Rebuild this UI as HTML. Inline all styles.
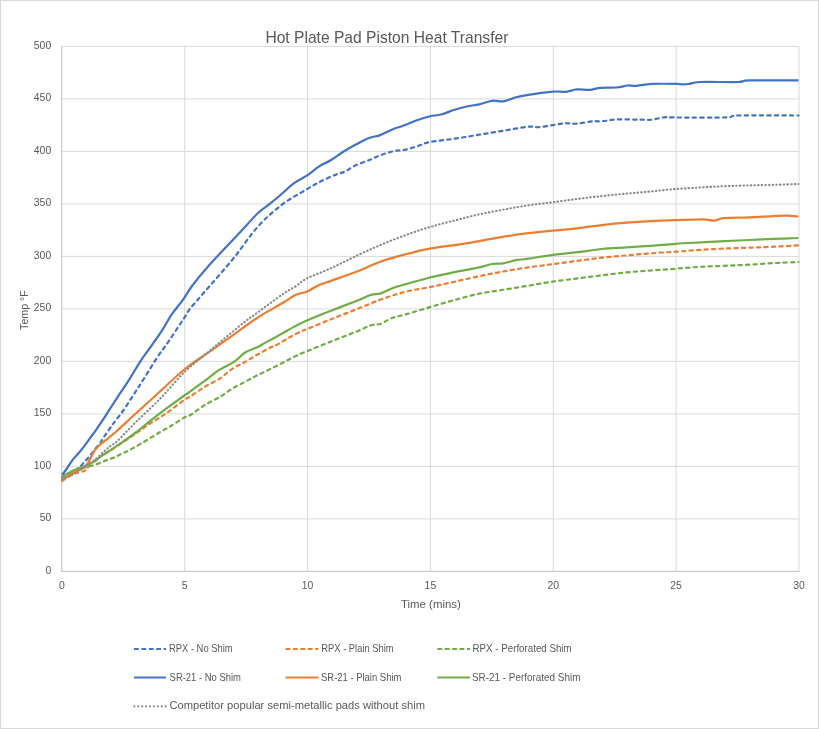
<!DOCTYPE html>
<html><head><meta charset="utf-8"><style>
html,body{margin:0;padding:0;background:#fff;width:819px;height:729px;overflow:hidden}
</style></head><body>
<svg width="819" height="729" viewBox="0 0 819 729" style="position:absolute;left:0;top:0;will-change:transform">
<rect x="0.5" y="0.5" width="818" height="728" fill="#fff" stroke="#D9D9D9" stroke-width="1"/>
<path d="M61.80 518.90H799.00 M61.80 466.40H799.00 M61.80 413.90H799.00 M61.80 361.40H799.00 M61.80 308.90H799.00 M61.80 256.40H799.00 M61.80 203.90H799.00 M61.80 151.40H799.00 M61.80 98.90H799.00 M61.80 46.40H799.00 M184.67 46.40V571.40 M307.53 46.40V571.40 M430.40 46.40V571.40 M553.27 46.40V571.40 M676.13 46.40V571.40 M799.00 46.40V571.40" stroke="#D9D9D9" stroke-width="1" fill="none"/>
<path d="M61.80 46.40V571.40" stroke="#BFBFBF" stroke-width="1" fill="none"/>
<path d="M61.30 571.40H799.50" stroke="#BFBFBF" stroke-width="1" fill="none"/>
<text x="51.2" y="573.90" text-anchor="end" font-family='"Liberation Sans", sans-serif' font-size="10.4" fill="#595959">0</text>
<text x="51.2" y="521.40" text-anchor="end" font-family='"Liberation Sans", sans-serif' font-size="10.4" fill="#595959">50</text>
<text x="51.2" y="468.90" text-anchor="end" font-family='"Liberation Sans", sans-serif' font-size="10.4" fill="#595959">100</text>
<text x="51.2" y="416.40" text-anchor="end" font-family='"Liberation Sans", sans-serif' font-size="10.4" fill="#595959">150</text>
<text x="51.2" y="363.90" text-anchor="end" font-family='"Liberation Sans", sans-serif' font-size="10.4" fill="#595959">200</text>
<text x="51.2" y="311.40" text-anchor="end" font-family='"Liberation Sans", sans-serif' font-size="10.4" fill="#595959">250</text>
<text x="51.2" y="258.90" text-anchor="end" font-family='"Liberation Sans", sans-serif' font-size="10.4" fill="#595959">300</text>
<text x="51.2" y="206.40" text-anchor="end" font-family='"Liberation Sans", sans-serif' font-size="10.4" fill="#595959">350</text>
<text x="51.2" y="153.90" text-anchor="end" font-family='"Liberation Sans", sans-serif' font-size="10.4" fill="#595959">400</text>
<text x="51.2" y="101.40" text-anchor="end" font-family='"Liberation Sans", sans-serif' font-size="10.4" fill="#595959">450</text>
<text x="51.2" y="48.90" text-anchor="end" font-family='"Liberation Sans", sans-serif' font-size="10.4" fill="#595959">500</text>
<text x="61.80" y="589" text-anchor="middle" font-family='"Liberation Sans", sans-serif' font-size="10.4" fill="#595959">0</text>
<text x="184.67" y="589" text-anchor="middle" font-family='"Liberation Sans", sans-serif' font-size="10.4" fill="#595959">5</text>
<text x="307.53" y="589" text-anchor="middle" font-family='"Liberation Sans", sans-serif' font-size="10.4" fill="#595959">10</text>
<text x="430.40" y="589" text-anchor="middle" font-family='"Liberation Sans", sans-serif' font-size="10.4" fill="#595959">15</text>
<text x="553.27" y="589" text-anchor="middle" font-family='"Liberation Sans", sans-serif' font-size="10.4" fill="#595959">20</text>
<text x="676.13" y="589" text-anchor="middle" font-family='"Liberation Sans", sans-serif' font-size="10.4" fill="#595959">25</text>
<text x="799.00" y="589" text-anchor="middle" font-family='"Liberation Sans", sans-serif' font-size="10.4" fill="#595959">30</text>
<text x="265.4" y="42.5" textLength="243" lengthAdjust="spacingAndGlyphs" font-family='"Liberation Sans", sans-serif' font-size="16.4" fill="#595959">Hot Plate Pad Piston Heat Transfer</text>
<text x="401" y="608.1" textLength="59.8" lengthAdjust="spacingAndGlyphs" font-family='"Liberation Sans", sans-serif' font-size="10.8" fill="#595959">Time (mins)</text>
<text transform="translate(27.9 329.9) rotate(-90)" x="0" y="0" textLength="39.6" lengthAdjust="spacingAndGlyphs" font-family='"Liberation Sans", sans-serif' font-size="10.8" fill="#595959">Temp °F</text>
<path d="M62.00 477.50C63.33 476.75 67.22 474.62 70.00 473.00C72.78 471.38 76.38 469.53 78.70 467.80C81.02 466.07 82.17 464.45 83.90 462.60C85.63 460.75 87.25 458.92 89.10 456.70C90.95 454.48 93.02 451.77 95.00 449.30C96.98 446.83 99.73 443.62 101.00 441.90C102.27 440.18 100.77 441.73 102.60 439.00C104.43 436.27 108.62 430.17 112.00 425.50C115.38 420.83 119.25 416.22 122.90 411.00C126.55 405.78 130.43 399.53 133.90 394.20C137.37 388.87 139.78 385.18 143.70 379.00C147.62 372.82 153.28 363.32 157.40 357.10C161.52 350.88 164.73 347.02 168.40 341.70C172.07 336.38 176.72 329.22 179.40 325.20C182.08 321.18 182.73 320.33 184.50 317.60C186.27 314.87 185.93 313.90 190.00 308.80C194.07 303.70 201.65 295.42 208.90 287.00C216.15 278.58 225.32 268.38 233.50 258.30C241.68 248.22 249.82 235.52 258.00 226.50C266.18 217.48 274.42 210.43 282.60 204.20C290.78 197.97 300.73 192.92 307.10 189.10C313.47 185.28 315.92 183.75 320.80 181.30C325.68 178.85 332.33 176.03 336.40 174.40C340.47 172.77 342.15 172.93 345.20 171.50C348.25 170.07 350.45 167.82 354.70 165.80C358.95 163.78 366.18 161.25 370.70 159.40C375.22 157.55 377.83 156.10 381.80 154.70C385.77 153.30 390.52 151.85 394.50 151.00C398.48 150.15 401.72 150.45 405.70 149.60C409.68 148.75 414.35 147.17 418.40 145.90C422.45 144.63 423.97 143.20 430.00 142.00C436.03 140.80 446.42 139.92 454.60 138.70C462.78 137.48 470.92 136.03 479.10 134.70C487.28 133.37 495.50 132.03 503.70 130.70C511.90 129.37 522.55 127.28 528.30 126.70C534.05 126.12 534.12 127.47 538.20 127.20C542.28 126.93 548.22 125.75 552.80 125.10C557.38 124.45 561.68 123.53 565.70 123.30C569.72 123.07 572.38 124.03 576.90 123.70C581.42 123.37 588.57 121.70 592.80 121.30C597.03 120.90 598.32 121.62 602.30 121.30C606.28 120.98 610.33 119.67 616.70 119.40C623.07 119.13 634.67 119.65 640.50 119.70C646.33 119.75 647.72 120.10 651.70 119.70C655.68 119.30 660.18 117.67 664.40 117.30C668.62 116.93 666.58 117.48 677.00 117.50C687.42 117.52 716.72 117.73 726.90 117.40C737.08 117.07 726.17 115.82 738.10 115.50C750.03 115.18 788.43 115.50 798.50 115.50" fill="none" stroke="#4472C4" stroke-width="2.2" stroke-linejoin="round" stroke-linecap="round" stroke-dasharray="3.3 4.2"/>
<path d="M62.00 481.00C63.80 479.90 69.77 475.87 72.80 474.40C75.83 472.93 78.10 472.87 80.20 472.20C82.30 471.53 83.92 471.38 85.40 470.40C86.88 469.42 86.88 468.47 89.10 466.30C91.32 464.13 95.12 460.07 98.70 457.40C102.28 454.73 108.00 451.90 110.60 450.30C113.20 448.70 110.20 450.52 114.30 447.80C118.40 445.08 129.45 437.93 135.20 434.00C140.95 430.07 144.70 426.95 148.80 424.20C152.90 421.45 156.27 419.77 159.80 417.50C163.33 415.23 165.92 413.55 170.00 410.60C174.08 407.65 180.80 402.22 184.30 399.80C187.80 397.38 187.65 398.23 191.00 396.10C194.35 393.97 199.57 389.97 204.40 387.00C209.23 384.03 215.35 381.33 220.00 378.30C224.65 375.27 228.18 371.48 232.30 368.80C236.42 366.12 240.58 364.53 244.70 362.20C248.82 359.87 252.78 357.20 257.00 354.80C261.22 352.40 266.62 349.50 270.00 347.80C273.38 346.10 274.02 346.37 277.30 344.60C280.58 342.83 285.58 339.47 289.70 337.20C293.82 334.93 299.05 332.38 302.00 331.00C304.95 329.62 302.45 330.90 307.40 328.90C312.35 326.90 323.55 322.25 331.70 319.00C339.85 315.75 348.10 312.65 356.30 309.40C364.50 306.15 372.72 302.43 380.90 299.50C389.08 296.57 397.22 293.87 405.40 291.80C413.58 289.73 421.80 288.78 430.00 287.10C438.20 285.42 446.42 283.52 454.60 281.70C462.78 279.88 470.92 277.92 479.10 276.20C487.28 274.48 495.50 272.87 503.70 271.40C511.90 269.93 520.12 268.62 528.30 267.40C536.48 266.18 544.62 265.18 552.80 264.10C560.98 263.02 569.20 261.97 577.40 260.90C585.60 259.83 593.82 258.62 602.00 257.70C610.18 256.78 618.32 256.13 626.50 255.40C634.68 254.67 642.90 253.92 651.10 253.30C659.30 252.68 667.52 252.27 675.70 251.70C683.88 251.13 692.02 250.43 700.20 249.90C708.38 249.37 716.60 248.87 724.80 248.50C733.00 248.13 741.22 248.00 749.40 247.70C757.58 247.40 765.72 247.08 773.90 246.70C782.08 246.32 794.40 245.62 798.50 245.40" fill="none" stroke="#ED7D31" stroke-width="2.2" stroke-linejoin="round" stroke-linecap="round" stroke-dasharray="3.3 4.2"/>
<path d="M62.00 477.40C63.80 476.42 68.78 473.23 72.80 471.50C76.82 469.77 82.40 468.12 86.10 467.00C89.80 465.88 91.67 465.90 95.00 464.80C98.33 463.70 103.10 461.53 106.10 460.40C109.10 459.27 111.02 458.80 113.00 458.00C114.98 457.20 114.30 457.43 118.00 455.60C121.70 453.77 128.23 450.88 135.20 447.00C142.17 443.12 154.00 435.72 159.80 432.30C165.60 428.88 165.92 428.97 170.00 426.50C174.08 424.03 180.97 419.37 184.30 417.50C187.63 415.63 186.65 417.35 190.00 415.30C193.35 413.25 199.40 408.28 204.40 405.20C209.40 402.12 215.35 399.57 220.00 396.80C224.65 394.03 228.18 391.07 232.30 388.60C236.42 386.13 240.58 384.20 244.70 382.00C248.82 379.80 253.07 377.40 257.00 375.40C260.93 373.40 264.22 371.98 268.30 370.00C272.38 368.02 277.25 365.68 281.50 363.50C285.75 361.32 289.48 358.98 293.80 356.90C298.12 354.82 301.08 353.60 307.40 351.00C313.72 348.40 323.55 344.53 331.70 341.30C339.85 338.07 349.80 334.25 356.30 331.60C362.80 328.95 366.60 326.70 370.70 325.40C374.80 324.10 377.47 325.00 380.90 323.80C384.33 322.60 387.22 319.75 391.30 318.20C395.38 316.65 398.95 316.35 405.40 314.50C411.85 312.65 421.80 309.52 430.00 307.10C438.20 304.68 446.42 302.23 454.60 300.00C462.78 297.77 470.92 295.42 479.10 293.70C487.28 291.98 495.50 291.03 503.70 289.70C511.90 288.37 520.12 287.05 528.30 285.70C536.48 284.35 544.62 282.82 552.80 281.60C560.98 280.38 569.20 279.45 577.40 278.40C585.60 277.35 593.82 276.30 602.00 275.30C610.18 274.30 618.32 273.20 626.50 272.40C634.68 271.60 642.90 271.12 651.10 270.50C659.30 269.88 667.52 269.32 675.70 268.70C683.88 268.08 692.02 267.28 700.20 266.80C708.38 266.32 716.60 266.15 724.80 265.80C733.00 265.45 741.22 265.15 749.40 264.70C757.58 264.25 765.72 263.55 773.90 263.10C782.08 262.65 794.40 262.18 798.50 262.00" fill="none" stroke="#70AD47" stroke-width="2.2" stroke-linejoin="round" stroke-linecap="round" stroke-dasharray="3.3 4.2"/>
<path d="M62.00 475.20C62.82 474.08 65.10 471.10 66.90 468.50C68.70 465.90 70.83 462.18 72.80 459.60C74.77 457.02 76.72 455.33 78.70 453.00C80.68 450.67 82.72 448.20 84.70 445.60C86.68 443.00 88.63 440.12 90.60 437.40C92.57 434.68 94.77 431.77 96.50 429.30C98.23 426.83 99.33 425.10 101.00 422.60C102.67 420.10 103.77 418.52 106.50 414.30C109.23 410.08 113.75 402.87 117.40 397.30C121.05 391.73 124.47 387.05 128.40 380.90C132.33 374.75 137.07 366.38 141.00 360.40C144.93 354.42 148.35 350.22 152.00 345.00C155.65 339.78 159.62 334.20 162.90 329.10C166.18 324.00 168.40 319.22 171.70 314.40C175.00 309.58 179.32 304.93 182.70 300.20C186.08 295.47 187.63 291.78 192.00 286.00C196.37 280.22 201.98 273.30 208.90 265.50C215.82 257.70 227.30 245.83 233.50 239.20C239.70 232.57 242.02 230.07 246.10 225.70C250.18 221.33 254.02 216.67 258.00 213.00C261.98 209.33 266.05 206.87 270.00 203.70C273.95 200.53 277.80 197.33 281.70 194.00C285.60 190.67 289.17 186.80 293.40 183.70C297.63 180.60 302.87 178.25 307.10 175.40C311.33 172.55 314.88 169.12 318.80 166.60C322.72 164.08 326.47 162.82 330.60 160.30C334.73 157.78 339.32 154.17 343.60 151.50C347.88 148.83 352.05 146.55 356.30 144.30C360.55 142.05 365.12 139.53 369.10 138.00C373.08 136.47 376.23 136.57 380.20 135.10C384.17 133.63 389.18 130.72 392.90 129.20C396.62 127.68 398.25 127.58 402.50 126.00C406.75 124.42 413.82 121.33 418.40 119.70C422.98 118.07 426.22 117.07 430.00 116.20C433.78 115.33 437.00 115.58 441.10 114.50C445.20 113.42 450.35 111.03 454.60 109.70C458.85 108.37 462.52 107.38 466.60 106.50C470.68 105.62 474.85 105.35 479.10 104.40C483.35 103.45 488.00 101.32 492.10 100.80C496.20 100.28 499.73 101.88 503.70 101.30C507.67 100.72 511.80 98.37 515.90 97.30C520.00 96.23 522.15 95.85 528.30 94.90C534.45 93.95 546.57 92.12 552.80 91.60C559.03 91.08 561.68 92.17 565.70 91.80C569.72 91.43 572.92 89.73 576.90 89.40C580.88 89.07 585.63 90.07 589.60 89.80C593.57 89.53 596.18 88.18 600.70 87.80C605.22 87.42 612.18 87.88 616.70 87.50C621.22 87.12 624.63 85.77 627.80 85.50C630.97 85.23 631.72 86.17 635.70 85.90C639.68 85.63 644.82 84.23 651.70 83.90C658.58 83.57 671.88 83.82 677.00 83.90C682.12 83.98 680.45 84.38 682.40 84.40C684.35 84.42 685.78 84.40 688.70 84.00C691.62 83.60 691.67 82.33 699.90 82.00C708.13 81.67 729.88 82.27 738.10 82.00C746.32 81.73 739.13 80.67 749.20 80.40C759.27 80.13 790.28 80.40 798.50 80.40" fill="none" stroke="#4472C4" stroke-width="2.2" stroke-linejoin="round" stroke-linecap="butt"/>
<path d="M62.00 480.30C63.80 479.08 69.40 474.97 72.80 473.00C76.20 471.03 80.05 469.87 82.40 468.50C84.75 467.13 85.53 466.53 86.90 464.80C88.27 463.07 89.25 460.57 90.60 458.10C91.95 455.63 93.27 452.40 95.00 450.00C96.73 447.60 98.77 445.68 101.00 443.70C103.23 441.72 105.57 440.38 108.40 438.10C111.23 435.82 113.53 434.02 118.00 430.00C122.47 425.98 128.83 419.83 135.20 414.00C141.57 408.17 148.02 402.42 156.20 395.00C164.38 387.58 175.52 376.65 184.30 369.50C193.08 362.35 200.70 357.88 208.90 352.10C217.10 346.32 225.32 340.60 233.50 334.80C241.68 329.00 249.82 322.60 258.00 317.30C266.18 312.00 276.37 306.72 282.60 303.00C288.83 299.28 291.30 296.92 295.40 295.00C299.50 293.08 303.42 293.10 307.20 291.50C310.98 289.90 314.02 287.22 318.10 285.40C322.18 283.58 325.33 282.87 331.70 280.60C338.07 278.33 348.10 274.98 356.30 271.80C364.50 268.62 372.72 264.42 380.90 261.50C389.08 258.58 397.22 256.45 405.40 254.30C413.58 252.15 421.80 250.13 430.00 248.60C438.20 247.07 446.42 246.35 454.60 245.10C462.78 243.85 470.92 242.50 479.10 241.10C487.28 239.70 495.50 238.02 503.70 236.70C511.90 235.38 520.12 234.20 528.30 233.20C536.48 232.20 544.62 231.52 552.80 230.70C560.98 229.88 569.20 229.23 577.40 228.30C585.60 227.37 593.82 226.03 602.00 225.10C610.18 224.17 618.32 223.37 626.50 222.70C634.68 222.03 642.90 221.53 651.10 221.10C659.30 220.67 667.05 220.40 675.70 220.10C684.35 219.80 696.58 219.22 703.00 219.30C709.42 219.38 710.75 220.80 714.20 220.60C717.65 220.40 717.83 218.65 723.70 218.10C729.57 217.55 741.03 217.63 749.40 217.30C757.77 216.97 767.57 216.37 773.90 216.10C780.23 215.83 783.30 215.63 787.40 215.70C791.50 215.77 796.65 216.37 798.50 216.50" fill="none" stroke="#ED7D31" stroke-width="2.2" stroke-linejoin="round" stroke-linecap="butt"/>
<path d="M62.00 476.70C63.80 475.70 68.78 472.55 72.80 470.70C76.82 468.85 82.40 467.20 86.10 465.60C89.80 464.00 92.68 462.50 95.00 461.10C97.32 459.70 98.15 458.55 100.00 457.20C101.85 455.85 104.33 454.17 106.10 453.00C107.87 451.83 108.62 451.50 110.60 450.20C112.58 448.90 113.90 448.07 118.00 445.20C122.10 442.33 130.75 436.32 135.20 433.00C139.65 429.68 140.60 428.57 144.70 425.30C148.80 422.03 155.58 416.65 159.80 413.40C164.02 410.15 165.92 408.78 170.00 405.80C174.08 402.82 178.57 399.60 184.30 395.50C190.03 391.40 198.65 385.42 204.40 381.20C210.15 376.98 213.87 373.43 218.80 370.20C223.73 366.97 229.55 364.78 234.00 361.80C238.45 358.82 241.52 354.77 245.50 352.30C249.48 349.83 254.65 348.57 257.90 347.00C261.15 345.43 261.07 345.08 265.00 342.90C268.93 340.72 276.70 336.57 281.50 333.90C286.30 331.23 289.48 329.17 293.80 326.90C298.12 324.63 301.08 323.03 307.40 320.30C313.72 317.57 323.55 313.72 331.70 310.50C339.85 307.28 349.80 303.58 356.30 301.00C362.80 298.42 366.60 296.27 370.70 295.00C374.80 293.73 377.18 294.57 380.90 293.40C384.62 292.23 388.92 289.52 393.00 288.00C397.08 286.48 399.23 286.05 405.40 284.30C411.57 282.55 421.80 279.52 430.00 277.50C438.20 275.48 446.42 273.88 454.60 272.20C462.78 270.52 472.87 268.77 479.10 267.40C485.33 266.03 487.98 264.67 492.00 264.00C496.02 263.33 499.20 264.03 503.20 263.40C507.20 262.77 511.82 260.98 516.00 260.20C520.18 259.42 522.17 259.60 528.30 258.70C534.43 257.80 544.62 255.88 552.80 254.80C560.98 253.72 569.20 253.17 577.40 252.20C585.60 251.23 593.82 249.80 602.00 249.00C610.18 248.20 618.32 247.93 626.50 247.40C634.68 246.87 642.90 246.40 651.10 245.80C659.30 245.20 667.52 244.37 675.70 243.80C683.88 243.23 692.02 242.85 700.20 242.40C708.38 241.95 716.60 241.50 724.80 241.10C733.00 240.70 741.22 240.37 749.40 240.00C757.58 239.63 765.72 239.23 773.90 238.90C782.08 238.57 794.40 238.15 798.50 238.00" fill="none" stroke="#70AD47" stroke-width="2.2" stroke-linejoin="round" stroke-linecap="butt"/>
<path d="M62.00 479.00C63.80 478.23 68.78 476.63 72.80 474.40C76.82 472.17 82.40 468.07 86.10 465.60C89.80 463.13 92.03 461.95 95.00 459.60C97.97 457.25 101.30 453.77 103.90 451.50C106.50 449.23 108.37 447.73 110.60 446.00C112.83 444.27 113.20 444.98 117.30 441.10C121.40 437.22 128.12 429.72 135.20 422.70C142.28 415.68 151.62 407.42 159.80 399.00C167.98 390.58 176.12 380.12 184.30 372.20C192.48 364.28 202.83 356.60 208.90 351.50C214.97 346.40 216.60 345.02 220.70 341.60C224.80 338.18 229.22 334.52 233.50 331.00C237.78 327.48 242.32 323.63 246.40 320.50C250.48 317.37 251.97 316.58 258.00 312.20C264.03 307.82 276.37 298.50 282.60 294.20C288.83 289.90 291.30 289.05 295.40 286.40C299.50 283.75 301.15 281.38 307.20 278.30C313.25 275.22 323.52 271.63 331.70 267.90C339.88 264.17 348.10 259.75 356.30 255.90C364.50 252.05 372.72 248.25 380.90 244.80C389.08 241.35 397.22 238.17 405.40 235.20C413.58 232.23 421.80 229.45 430.00 227.00C438.20 224.55 446.42 222.60 454.60 220.50C462.78 218.40 470.92 216.22 479.10 214.40C487.28 212.58 495.50 211.12 503.70 209.60C511.90 208.08 520.12 206.52 528.30 205.30C536.48 204.08 544.62 203.37 552.80 202.30C560.98 201.23 569.20 199.95 577.40 198.90C585.60 197.85 593.82 196.88 602.00 196.00C610.18 195.12 618.32 194.37 626.50 193.60C634.68 192.83 642.90 192.17 651.10 191.40C659.30 190.63 667.52 189.65 675.70 189.00C683.88 188.35 692.02 187.97 700.20 187.50C708.38 187.03 716.60 186.55 724.80 186.20C733.00 185.85 741.22 185.63 749.40 185.40C757.58 185.17 765.72 185.03 773.90 184.80C782.08 184.57 794.40 184.13 798.50 184.00" fill="none" stroke="#8A8A8A" stroke-width="2.1" stroke-linecap="round" stroke-dasharray="0.5 3.16"/>
<line x1="134" y1="649.0" x2="166" y2="649.0" stroke="#4472C4" stroke-width="2" stroke-dasharray="4.8 2.6"/>
<text x="169.0" y="651.9" textLength="63.6" lengthAdjust="spacingAndGlyphs" font-family='"Liberation Sans", sans-serif' font-size="10.2" fill="#595959">RPX - No Shim</text>
<line x1="285.6" y1="649.0" x2="318.4" y2="649.0" stroke="#ED7D31" stroke-width="2" stroke-dasharray="4.8 2.6"/>
<text x="321.3" y="651.9" textLength="72.3" lengthAdjust="spacingAndGlyphs" font-family='"Liberation Sans", sans-serif' font-size="10.2" fill="#595959">RPX - Plain Shim</text>
<line x1="437.4" y1="649.0" x2="470" y2="649.0" stroke="#70AD47" stroke-width="2" stroke-dasharray="4.8 2.6"/>
<text x="472.6" y="651.9" textLength="99" lengthAdjust="spacingAndGlyphs" font-family='"Liberation Sans", sans-serif' font-size="10.2" fill="#595959">RPX - Perforated Shim</text>
<line x1="134" y1="677.5" x2="166" y2="677.5" stroke="#4472C4" stroke-width="2"/>
<text x="169.6" y="680.6" textLength="71.3" lengthAdjust="spacingAndGlyphs" font-family='"Liberation Sans", sans-serif' font-size="10.2" fill="#595959">SR-21 - No Shim</text>
<line x1="285.6" y1="677.5" x2="318.4" y2="677.5" stroke="#ED7D31" stroke-width="2"/>
<text x="321" y="680.6" textLength="80.4" lengthAdjust="spacingAndGlyphs" font-family='"Liberation Sans", sans-serif' font-size="10.2" fill="#595959">SR-21 - Plain Shim</text>
<line x1="437.4" y1="677.5" x2="470" y2="677.5" stroke="#70AD47" stroke-width="2"/>
<text x="472" y="680.6" textLength="108.4" lengthAdjust="spacingAndGlyphs" font-family='"Liberation Sans", sans-serif' font-size="10.2" fill="#595959">SR-21 - Perforated Shim</text>
<g fill="#888888"><circle cx="134.40" cy="706.3" r="1.1"/><circle cx="138.30" cy="706.3" r="1.1"/><circle cx="142.20" cy="706.3" r="1.1"/><circle cx="146.10" cy="706.3" r="1.1"/><circle cx="150.00" cy="706.3" r="1.1"/><circle cx="153.90" cy="706.3" r="1.1"/><circle cx="157.80" cy="706.3" r="1.1"/><circle cx="161.70" cy="706.3" r="1.1"/><circle cx="165.60" cy="706.3" r="1.1"/></g>
<text x="169.4" y="708.8" textLength="255.6" lengthAdjust="spacingAndGlyphs" font-family='"Liberation Sans", sans-serif' font-size="11" fill="#595959">Competitor popular semi-metallic pads without shim</text>
</svg>
</body></html>
